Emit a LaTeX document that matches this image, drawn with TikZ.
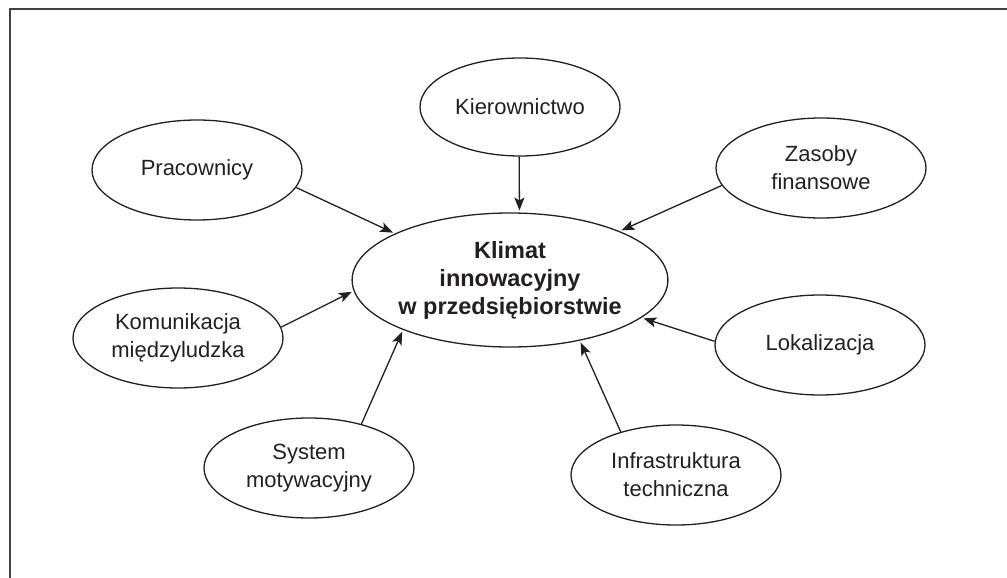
\documentclass[tikz,border=0pt]{standalone}
\usepackage{fontspec}
\setmainfont{Liberation Sans}
\usetikzlibrary{shapes.geometric,arrows.meta}
\definecolor{ink}{HTML}{231F20}
\begin{document}
\begin{tikzpicture}[x=1pt,y=-1pt,
  factor/.style={draw=ink,line width=1.3pt,ellipse,inner sep=0pt,
    minimum width=210pt,minimum height=100pt,align=center,text=ink,
    font=\fontsize{22}{28}\selectfont},
  core/.style={factor,minimum width=296pt,minimum height=134pt,
    font=\fontsize{23.5}{28}\selectfont\bfseries},
  link/.style={draw=ink,line width=1.3pt,shorten >=2pt,
    -{Stealth[length=13pt,width=10pt,inset=3pt]}}]
\useasboundingbox (0,0) rectangle (1007,578);
% open frame: top and left edges only
\draw[line width=2.2pt,draw=ink!85] (1007,9) -- (10,9) -- (10,578);
% central idea
\node[core] (klimat) at (510,280) {Klimat\\innowacyjny\\w przedsiębiorstwie};
% surrounding factors
\node[factor,minimum width=200pt,minimum height=98pt] (kier) at (520,107) {Kierownictwo};
\node[factor] (prac)  at (197,170) {Pracownicy};
\node[factor] (zas)   at (821,168) {Zasoby\\finansowe};
\node[factor] (kom)   at (178,338) {Komunikacja\\międzyludzka};
\node[factor] (lok)   at (820,345) {Lokalizacja};
\node[factor] (sys)   at (309,468) {System\\motywacyjny};
\node[factor] (infra) at (676,475) {Infrastruktura\\techniczna};
% influences on the climate
\draw[link] (kier.-91)    -- (klimat.82.3);
\draw[link] (prac.-10)    -- (klimat.158.2);
\draw[link] (zas.-170)    -- (klimat.24);
\draw[link] (kom.6)       -- (klimat.-176.4);
\draw[link] (lok.178)     -- (klimat.-16);
\draw[link] (sys.40.6)    -- (klimat.-155.5);
\draw[link] (infra.142.9) -- (klimat.-41.4);
\end{tikzpicture}
\end{document}
